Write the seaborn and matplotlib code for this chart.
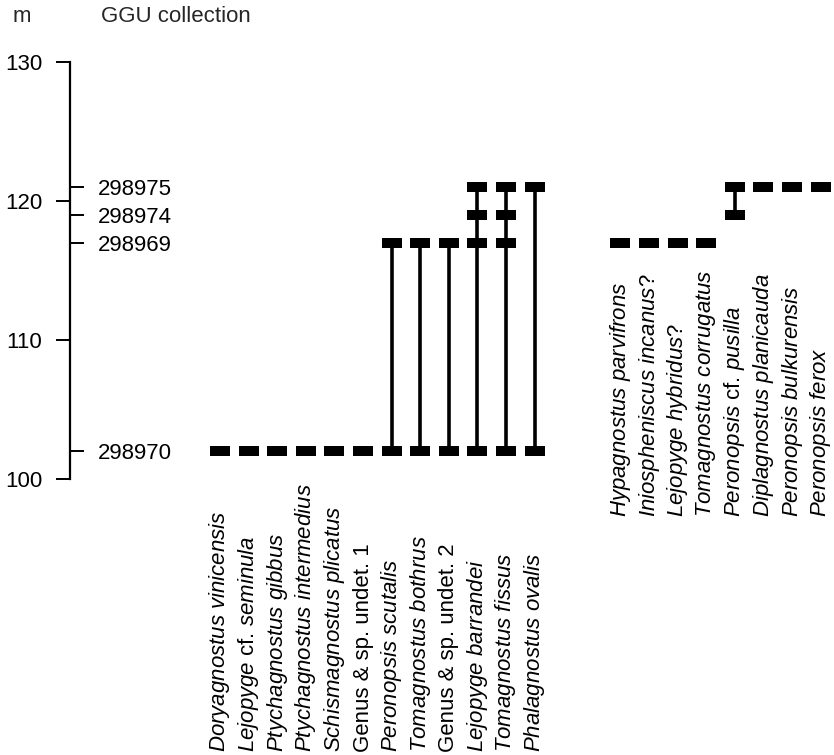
import numpy as np
import pandas as pd
import matplotlib
matplotlib.use("Agg")
import matplotlib.pyplot as plt
from matplotlib.path import Path
import seaborn as sns

# ---------------- data ----------------
left_species = [
    "Doryagnostus vinicensis", "Lejopyge cf. seminula", "Ptychagnostus gibbus",
    "Ptychagnostus intermedius", "Schismagnostus plicatus", "Genus & sp. undet. 1",
    "Peronopsis scutalis", "Tomagnostus bothrus", "Genus & sp. undet. 2",
    "Lejopyge barrandei", "Tomagnostus fissus", "Phalagnostus ovalis",
]
left_levels = [
    [102], [102], [102], [102], [102], [102],
    [102, 117], [102, 117], [102, 117],
    [102, 117, 119, 121], [102, 117, 119, 121], [102, 121],
]
right_species = [
    "Hypagnostus parvifrons", "Iniospheniscus incanus?", "Lejopyge hybridus?",
    "Tomagnostus corrugatus", "Peronopsis cf. pusilla", "Diplagnostus planicauda",
    "Peronopsis bulkurensis", "Peronopsis ferox",
]
right_levels = [
    [117], [117], [117], [117], [119, 121], [121], [121], [121],
]
sample_levels = [102, 117, 119, 121]
sample_labels = ["298970", "298969", "298974", "298975"]
height_ticks = [100, 110, 120, 130]

# ---------------- build table ----------------
rows = []
label_rows = []
for i, (sp, lv) in enumerate(zip(left_species, left_levels)):
    for v in lv:
        rows.append({"species": sp, "pos": i, "level": v})
    label_rows.append((sp, i, "left"))
offset = len(left_species) + 2
for j, (sp, lv) in enumerate(zip(right_species, right_levels)):
    for v in lv:
        rows.append({"species": sp, "pos": offset + j, "level": v})
    label_rows.append((sp, offset + j, "right"))
df = pd.DataFrame(rows)

ROMAN = {"cf.", "&", "sp.", "undet.", "1", "2", "Genus"}


def fmt(name):
    parts = []
    for w in name.split(" "):
        if w in ROMAN:
            parts.append(w)
        elif w.endswith("?"):
            parts.append(r"$\mathit{" + w[:-1] + "}$?")
        else:
            parts.append(r"$\mathit{" + w + "}$")
    return " ".join(parts)


# ---------------- style ----------------
sns.set_theme(style="white")
plt.rcParams["font.family"] = ["Liberation Sans", "DejaVu Sans"]
plt.rcParams["mathtext.fontset"] = "custom"
plt.rcParams["mathtext.it"] = "Liberation Sans:italic"
plt.rcParams["mathtext.rm"] = "Liberation Sans"
FS = 16

W, H = 834, 755
fig = plt.figure(figsize=(W / 100, H / 100), dpi=100)

px_axis = 70
px_top, px_bot = 62, 479
ax = fig.add_axes([px_axis / W, (H - px_bot) / H, (W - px_axis) / W, (px_bot - px_top) / H])
x0_px, dx_px = 220, 28.6
ax.set_xlim((px_axis - x0_px) / dx_px, (W - x0_px) / dx_px)
ax.set_ylim(100, 130)

# range lines
sns.lineplot(data=df, x="pos", y="level", units="species", estimator=None,
             orient="y", color="black", linewidth=2.6, ax=ax, legend=False,
             zorder=2)
# occurrence bars
rect = Path([(-1, -0.46), (1, -0.46), (1, 0.46), (-1, 0.46), (-1, -0.46)],
            [Path.MOVETO, Path.LINETO, Path.LINETO, Path.LINETO, Path.CLOSEPOLY])
sns.scatterplot(data=df, x="pos", y="level", marker=rect, s=205, color="black",
                linewidth=0, ax=ax, legend=False, zorder=3)

# axes styling
for s in ["top", "right", "bottom"]:
    ax.spines[s].set_visible(False)
ax.spines["left"].set_bounds(100, 130)
ax.spines["left"].set_linewidth(1.6)
ax.spines["left"].set_color("black")
ax.set_xticks([])
ax.set_xlabel("")
ax.set_ylabel("")
ax.set_yticks(height_ticks)
ax.set_yticklabels([str(t) for t in height_ticks])
ax.tick_params(axis="y", direction="out", length=10, width=1.4, pad=10,
               labelsize=FS, color="black", labelcolor="black", left=True)

sec = ax.secondary_yaxis(0)
sec.set_alignment("right")
sec.set_yticks(sample_levels)
sec.set_yticklabels(sample_labels)
sec.tick_params(axis="y", direction="out", length=10, width=1.4, pad=10,
                labelsize=FS, color="black", labelcolor="black")
for s in sec.spines.values():
    s.set_visible(False)

# species labels
left_bottom = 100 - (752 - px_bot) / ((px_bot - px_top) / 30)
right_bottom = 100 - (517 - px_bot) / ((px_bot - px_top) / 30)
for sp, p, grp in label_rows:
    ax.text(p, left_bottom if grp == "left" else right_bottom, fmt(sp),
            rotation=90, ha="center", va="bottom", fontsize=FS,
            color="black", clip_on=False)

# headers
fig.text(22 / W, 1 - 16 / H, "m", ha="center", va="center", fontsize=FS)
fig.text(101 / W, 1 - 16 / H, "GGU collection", ha="left", va="center", fontsize=FS)

fig.savefig("out.png", dpi=100)
